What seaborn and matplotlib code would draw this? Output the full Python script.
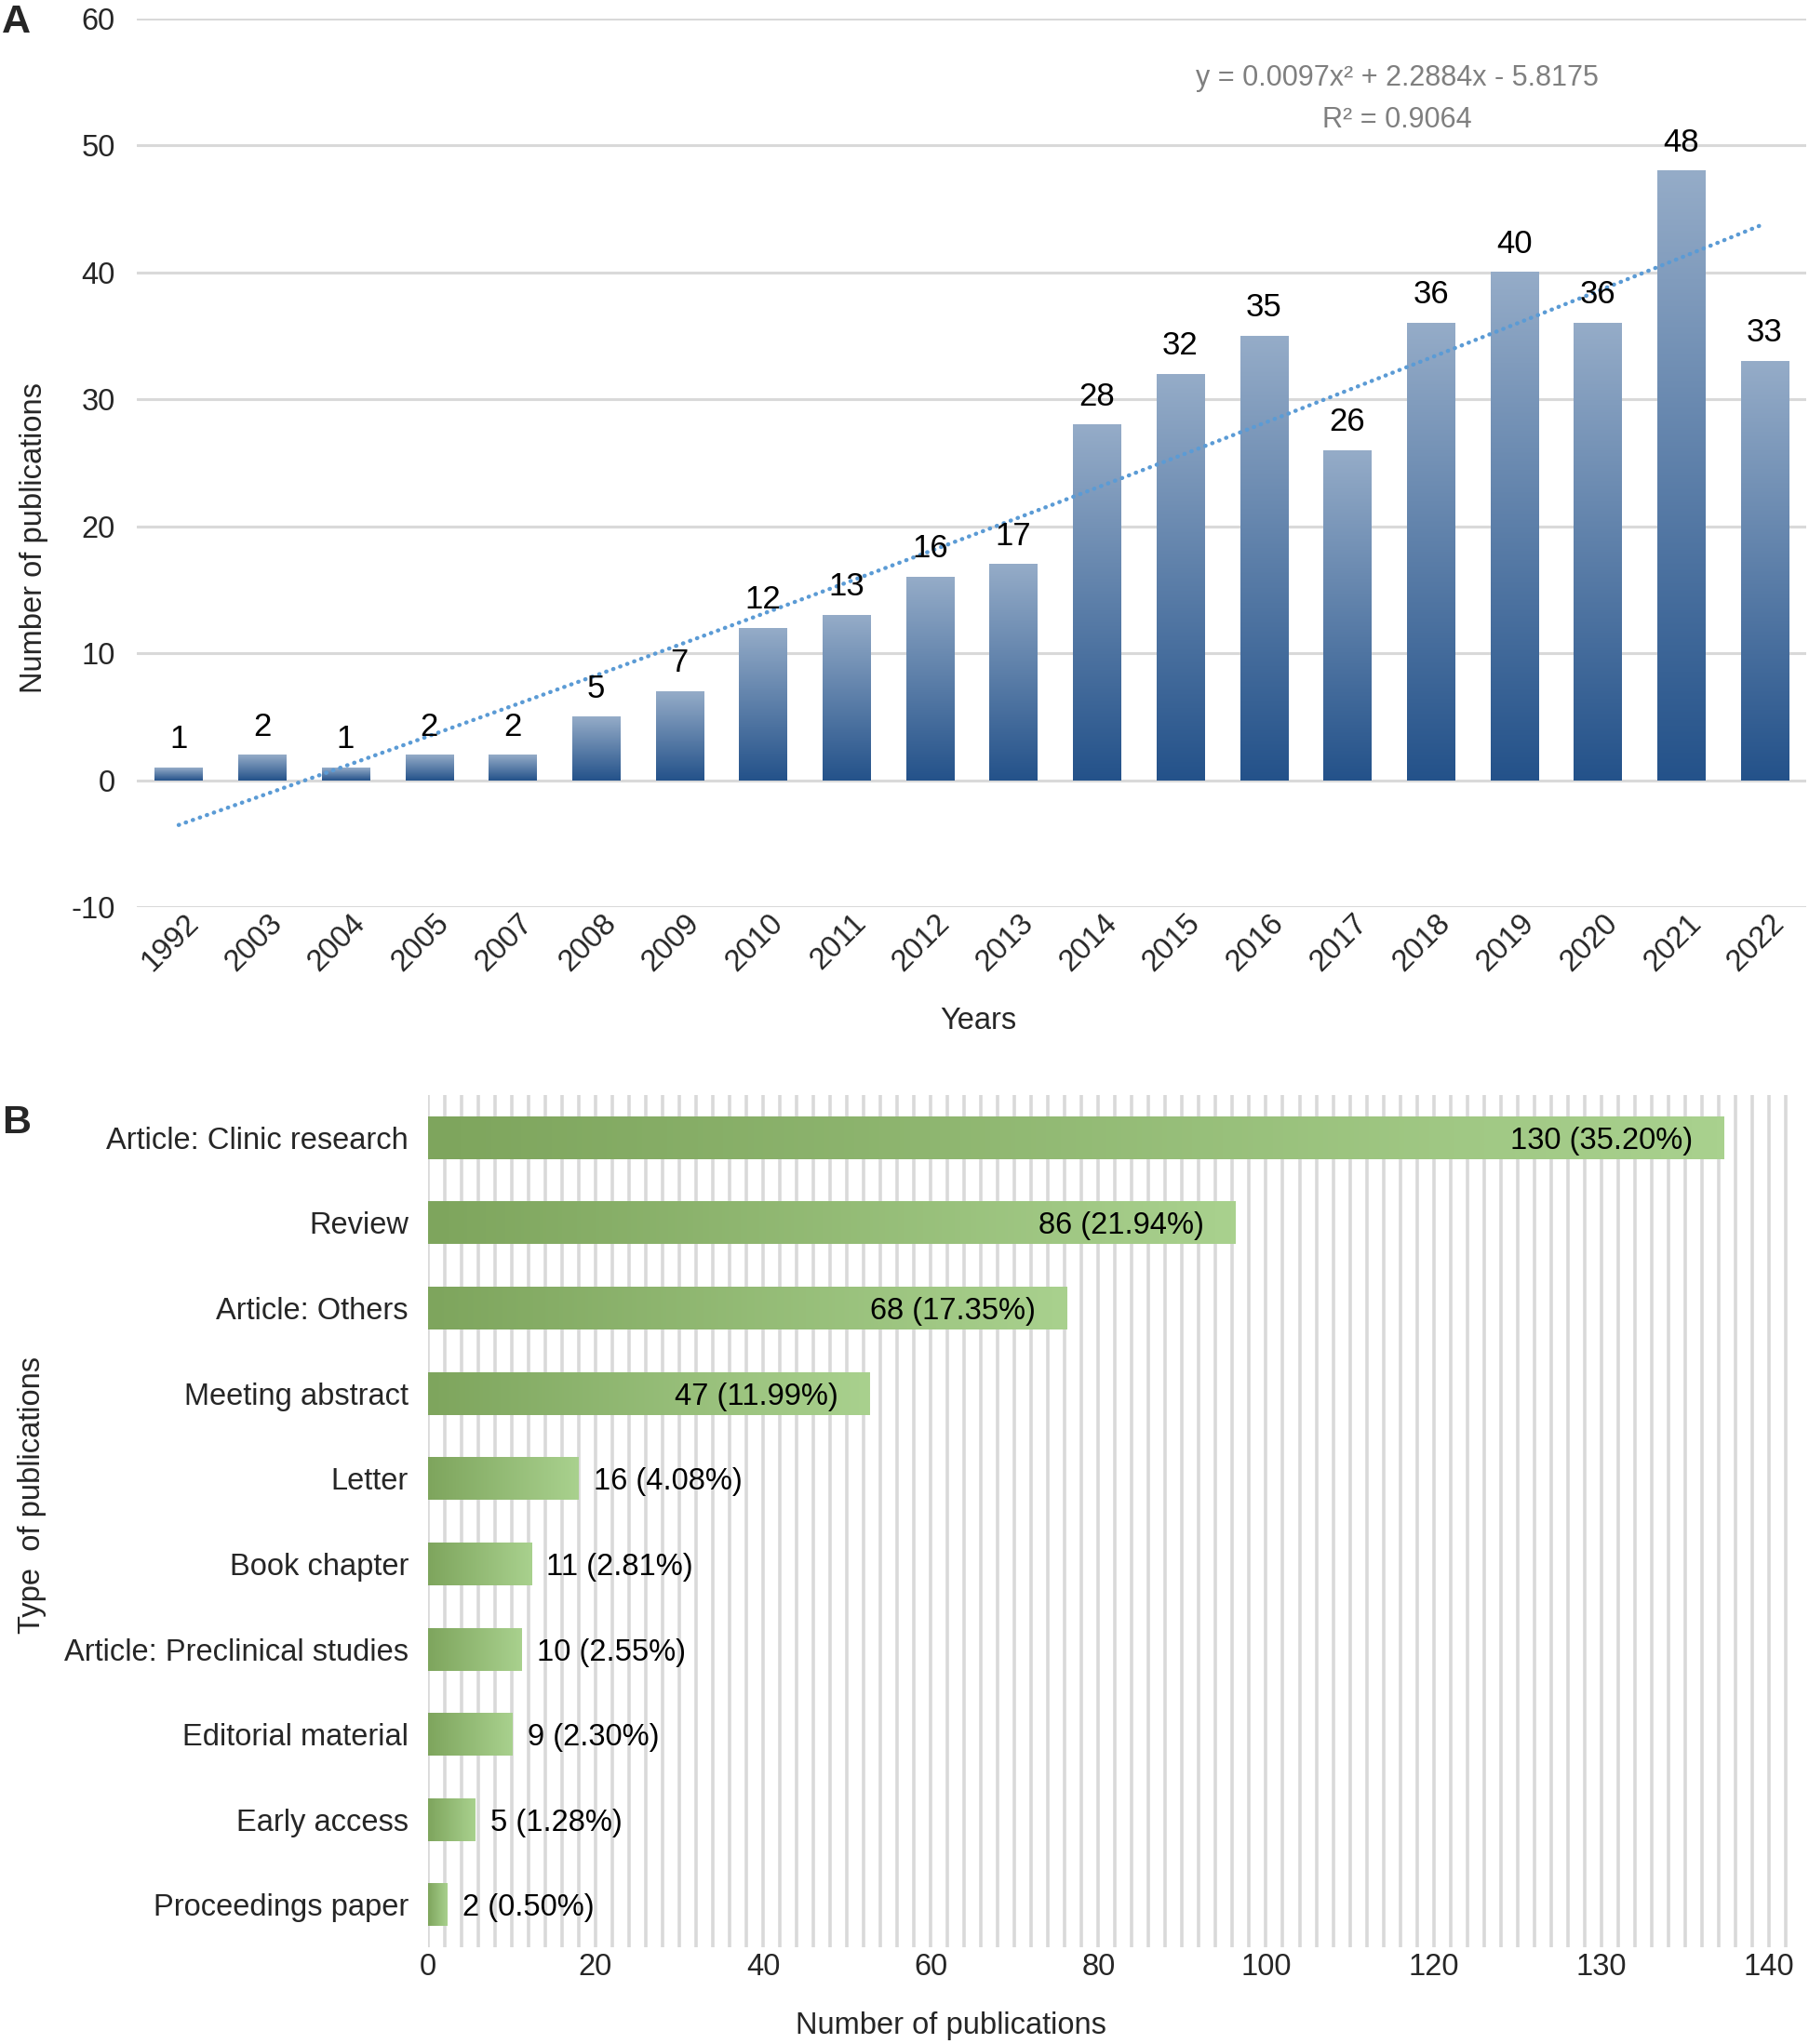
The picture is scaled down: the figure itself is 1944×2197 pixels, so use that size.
import numpy as np
import pandas as pd
import matplotlib
matplotlib.use("Agg")
import matplotlib.pyplot as plt
import matplotlib.transforms as mtransforms
from matplotlib.colors import LinearSegmentedColormap
import seaborn as sns

# panel A: publications per year
years = ["1992", "2003", "2004", "2005", "2007", "2008", "2009", "2010", "2011", "2012",
         "2013", "2014", "2015", "2016", "2017", "2018", "2019", "2020", "2021", "2022"]
year_counts = [1, 2, 1, 2, 2, 5, 7, 12, 13, 16, 17, 28, 32, 35, 26, 36, 40, 36, 48, 33]
trend_eq = "y = 0.0097x\u00b2 + 2.2884x - 5.8175"
trend_r2 = "R\u00b2 = 0.9064"

# panel B: publication types
pub_types = ["Article: Clinic research", "Review", "Article: Others", "Meeting abstract",
             "Letter", "Book chapter", "Article: Preclinical studies", "Editorial material",
             "Early access", "Proceedings paper"]
type_counts = [138, 86, 68, 47, 16, 11, 10, 9, 5, 2]
type_labels = ["130 (35.20%)", "86 (21.94%)", "68 (17.35%)", "47 (11.99%)", "16 (4.08%)",
               "11 (2.81%)", "10 (2.55%)", "9 (2.30%)", "5 (1.28%)", "2 (0.50%)"]
b_tick_labels = ["0", "20", "40", "60", "80", "100", "120", "130", "140"]
b_tick_step = 17.85  # the printed axis labels are not spaced in bar units in the original

sns.set_theme(style="white")
plt.rcParams["font.family"] = ["Liberation Sans", "DejaVu Sans"]
plt.rcParams["axes.unicode_minus"] = False
FS = 23.5
GRID = "#D9D9D9"


def gradient_fill(ax, patch, c0, c1, horizontal):
    x0, y0 = patch.get_x(), patch.get_y()
    w, h = patch.get_width(), patch.get_height()
    cmap = LinearSegmentedColormap.from_list("grad", [c0, c1])
    g = np.linspace(0, 1, 256)
    img = g[None, :] if horizontal else g[:, None]
    ax.imshow(img, cmap=cmap, extent=[x0, x0 + w, y0, y0 + h], origin="lower",
              aspect="auto", interpolation="bilinear", zorder=2)
    patch.set_visible(False)


fig = plt.figure(figsize=(19.44, 21.97), dpi=100)

# ---------------- panel A ----------------
axA = fig.add_axes([105 / 1387, 1 - 696 / 1568, 1280 / 1387, 682 / 1568])
df_a = pd.DataFrame({"year": years, "count": year_counts})
sns.barplot(data=df_a, x="year", y="count", ax=axA, width=0.57, color="#4F6F9A")
for p in list(axA.patches):
    gradient_fill(axA, p, "#24528A", "#95ACC8", horizontal=False)

pos = np.arange(len(years))
sns.regplot(x=pos, y=np.array(year_counts, dtype=float), order=2, ci=None, scatter=False,
            ax=axA, line_kws=dict(color="#5B9BD5", lw=3.2, ls=(0, (0.1, 1.7)),
                                  dash_capstyle="round", zorder=3))

for i, v in enumerate(year_counts):
    axA.annotate(str(v), (i, v), xytext=(0, 15), textcoords="offset points",
                 ha="center", va="baseline", fontsize=25, color="black")

axA.text(14.6, 55.3, trend_eq, ha="center", va="center", fontsize=22, color="#7F7F7F")
axA.text(14.6, 52.0, trend_r2, ha="center", va="center", fontsize=22, color="#7F7F7F")

axA.set_xlim(-0.5, len(years) - 0.5)
axA.set_ylim(-10, 60)
axA.set_yticks(range(-10, 61, 10))
axA.grid(axis="y", color=GRID, lw=2.2)
axA.grid(axis="x", visible=False)
axA.set_axisbelow(True)
for s in axA.spines.values():
    s.set_visible(False)
axA.tick_params(axis="y", length=0, pad=17, labelsize=FS)
axA.tick_params(axis="x", length=0, pad=9, labelsize=FS)
offset = mtransforms.ScaledTranslation(12 / 72, 0, fig.dpi_scale_trans)
for lab in axA.get_xticklabels():
    lab.set_rotation(45)
    lab.set_ha("right")
    lab.set_va("center")
    lab.set_rotation_mode("anchor")
    lab.set_transform(lab.get_transform() + offset)
axA.set_xlabel("Years", fontsize=FS, va="top")
axA.xaxis.set_label_coords(0.504, -0.112)
axA.set_ylabel("Number of publications", fontsize=FS)
axA.yaxis.set_label_coords(-0.053, 0.416)

# ---------------- panel B ----------------
axB = fig.add_axes([328 / 1387, 1 - 1494 / 1568, 1047 / 1387, 654 / 1568])
df_b = pd.DataFrame({"type": pub_types, "count": type_counts})
sns.barplot(data=df_b, x="count", y="type", orient="h", ax=axB, width=0.5, color="#95BD76")
for p in list(axB.patches):
    gradient_fill(axB, p, "#7EA55D", "#A9D18E", horizontal=True)

for i, (v, lab) in enumerate(zip(type_counts, type_labels)):
    if v >= 40:
        axB.annotate(lab, (v, i), xytext=(-24, 0), textcoords="offset points",
                     ha="right", va="center_baseline", fontsize=FS, color="black", zorder=4)
    else:
        axB.annotate(lab, (v, i), xytext=(12, 0), textcoords="offset points",
                     ha="left", va="center_baseline", fontsize=FS, color="black", zorder=4)

xmax = 145.4
axB.set_xlim(0, xmax)
axB.set_ylim(len(pub_types) - 0.5, -0.5)
axB.set_xticks(np.arange(len(b_tick_labels)) * b_tick_step)
axB.set_xticklabels(b_tick_labels)
axB.set_xticks(np.arange(0, xmax, b_tick_step / 10), minor=True)
axB.grid(axis="x", which="both", color=GRID, lw=2.6)
axB.grid(axis="y", visible=False)
axB.set_axisbelow(True)
for s in axB.spines.values():
    s.set_visible(False)
axB.tick_params(axis="x", which="both", length=0, pad=4, labelsize=FS)
axB.tick_params(axis="y", length=0, pad=15, labelsize=FS)
axB.set_xlabel("Number of publications", fontsize=FS, va="top")
axB.xaxis.set_label_coords(0.383, -0.075)
axB.set_ylabel("Type  of publications", fontsize=FS)
axB.yaxis.set_label_coords(-0.279, 0.531)

fig.text(0.001, 1 - 3 / 1568, "A", fontsize=31, fontweight="bold", ha="left", va="top")
fig.text(0.001, 1 - 847 / 1568, "B", fontsize=31, fontweight="bold", ha="left", va="top")

fig.savefig("out.png", dpi=100)
